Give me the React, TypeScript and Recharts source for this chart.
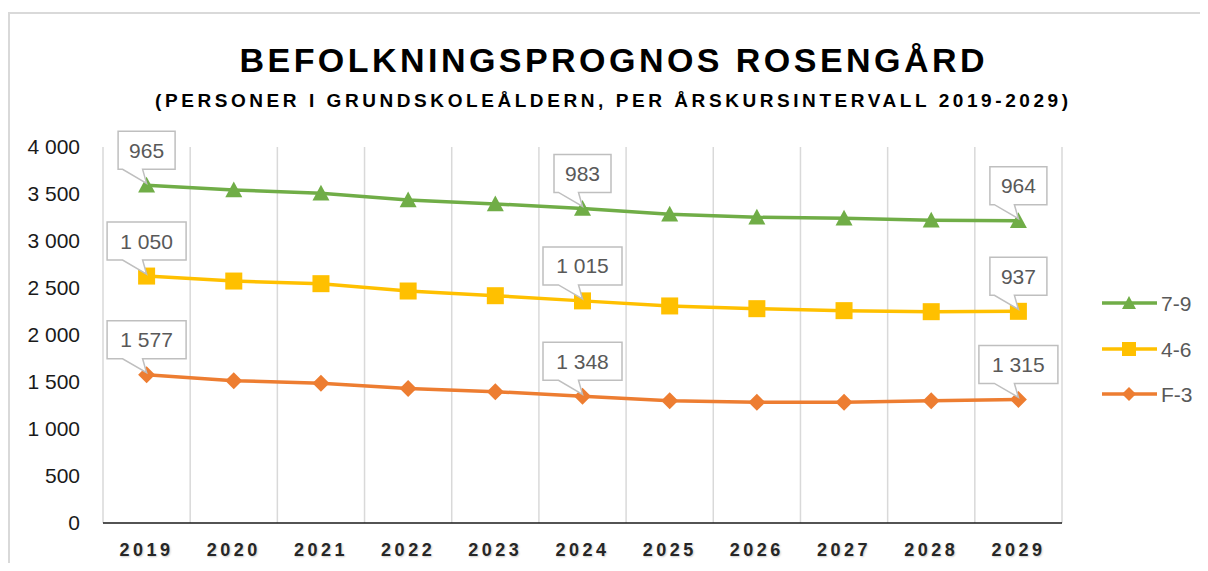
import { AreaChart, Area, CartesianGrid, XAxis, YAxis, LabelList } from "recharts";

const years = ["2019", "2020", "2021", "2022", "2023", "2024", "2025", "2026", "2027", "2028", "2029"];
const f3 = [1577, 1514, 1486, 1430, 1397, 1348, 1301, 1284, 1284, 1301, 1315];
const g46 = [1050, 1060, 1060, 1038, 1021, 1015, 1008, 996, 975, 947, 937];
const g79 = [965, 969, 961, 968, 976, 983, 975, 972, 982, 972, 964];
const yTicks = [0, 500, 1000, 1500, 2000, 2500, 3000, 3500, 4000];
const labelIdx = [0, 5, 10];

const GREEN = "#70ad47";
const YELLOW = "#ffc000";
const ORANGE = "#ed7d31";
const FONT = "'Liberation Sans', Arial, sans-serif";

const data = years.map((y, i) => ({ year: y, f3: f3[i], g46: g46[i], g79: g79[i] }));

const fmt = (v: number) => String(v).replace(/\B(?=(\d{3})+(?!\d))/g, " ");

function Marker({ kind, cx, cy, size, color }: { kind: string; cx: number; cy: number; size: number; color: string }) {
	const h = size / 2;
	if (kind === "tri") {
		return <polygon points={`${cx},${cy - h} ${cx + h},${cy + h * 0.85} ${cx - h},${cy + h * 0.85}`} fill={color} />;
	}
	if (kind === "sq") {
		return <rect x={cx - h} y={cy - h} width={size} height={size} fill={color} />;
	}
	return <polygon points={`${cx},${cy - h} ${cx + h},${cy} ${cx},${cy + h} ${cx - h},${cy}`} fill={color} />;
}

const dotFn = (kind: string, color: string, size: number) => (p: any) => (
	<Marker key={`d-${kind}-${p.index}`} kind={kind} cx={p.cx} cy={p.cy} size={size} color={color} />
);

const callout = (values: number[]) => (p: any) => {
	if (!labelIdx.includes(p.index) || p.x == null) return null;
	const text = fmt(values[p.index]);
	const w = text.length * 11 + 24;
	const h = 38;
	const px = p.x;
	const py = p.y;
	const bottom = py - 16;
	const top = bottom - h;
	const left = px - w / 2;
	const right = px + w / 2;
	const d = `M${left},${top} L${right},${top} L${right},${bottom} L${px - 4},${bottom} L${px},${py - 2} L${px - 24},${bottom} L${left},${bottom} Z`;
	return (
		<g key={`c-${p.index}`}>
			<path d={d} fill="#fff" stroke="#bfbfbf" strokeWidth={1.5} />
			<text x={px} y={top + h / 2 + 7.5} textAnchor="middle" fontSize={21} fill="#595959" fontFamily={FONT}>
				{text}
			</text>
		</g>
	);
};

const legendItems = [
	{ name: "7-9", kind: "tri", color: GREEN, y: 295 },
	{ name: "4-6", kind: "sq", color: YELLOW, y: 341 },
	{ name: "F-3", kind: "dia", color: ORANGE, y: 386 },
];

export default function App() {
	return (
		<div style={{ position: "relative", width: 1200, height: 555, overflow: "hidden", fontFamily: FONT }}>
			<div
				style={{
					position: "absolute",
					left: 0,
					top: 4,
					width: 1300,
					height: 700,
					borderLeft: "2px solid #d9d9d9",
					borderTop: "2px solid #d9d9d9",
				}}
			/>
			<svg width={1200} height={130} style={{ position: "absolute", left: 0, top: 0 }}>
				<text x={604} y={64} textAnchor="middle" fontSize={34} fontWeight="bold" fill="#000" fontFamily={FONT} textLength={745} lengthAdjust="spacing">
					BEFOLKNINGSPROGNOS ROSENGÅRD
				</text>
				<text x={603.5} y={99} textAnchor="middle" fontSize={19} fontWeight="bold" fill="#000" fontFamily={FONT} textLength={913} lengthAdjust="spacing">
					(PERSONER I GRUNDSKOLEÅLDERN, PER ÅRSKURSINTERVALL 2019-2029)
				</text>
			</svg>
			<div style={{ position: "absolute", left: 0, top: 0 }}>
				<AreaChart width={1200} height={555} data={data} margin={{ top: 139, right: 146, bottom: 10, left: 35 }}>
					<CartesianGrid
						horizontal={false}
						stroke="#d9d9d9"
						strokeWidth={1.5}
						verticalCoordinatesGenerator={({ offset }: any) =>
							years.concat([""]).map((_, i) => offset.left + (i * offset.width) / years.length)
						}
					/>
					<XAxis
						dataKey="year"
						padding={{ left: 43.6, right: 43.6 }}
						tickLine={false}
						tickSize={0}
						tickMargin={20}
						axisLine={{ stroke: "#1a1a1a", strokeWidth: 1.5 }}
						tick={{ fontSize: 18, fontWeight: "bold", fill: "#262626", letterSpacing: 3.5, fontFamily: FONT, style: { textShadow: "1px 1px 2px rgba(0,0,0,0.2)" } }}
					/>
					<YAxis
						width={60}
						domain={[0, 4000]}
						ticks={yTicks}
						tickFormatter={fmt}
						axisLine={false}
						tickLine={false}
						tickSize={0}
						tickMargin={23}
						tick={{ fontSize: 21, fill: "#1a1a1a", fontFamily: FONT }}
					/>
					<Area
						type="linear"
						dataKey="f3"
						name="F-3"
						stackId="a"
						stroke={ORANGE}
						strokeWidth={3.5}
						fill="none"
						dot={dotFn("dia", ORANGE, 17)}
						activeDot={false}
						isAnimationActive={false}
					>
						<LabelList content={callout(f3)} />
					</Area>
					<Area
						type="linear"
						dataKey="g46"
						name="4-6"
						stackId="a"
						stroke={YELLOW}
						strokeWidth={3.5}
						fill="none"
						dot={dotFn("sq", YELLOW, 17)}
						activeDot={false}
						isAnimationActive={false}
					>
						<LabelList content={callout(g46)} />
					</Area>
					<Area
						type="linear"
						dataKey="g79"
						name="7-9"
						stackId="a"
						stroke={GREEN}
						strokeWidth={3.5}
						fill="none"
						dot={dotFn("tri", GREEN, 17)}
						activeDot={false}
						isAnimationActive={false}
					>
						<LabelList content={callout(g79)} />
					</Area>
				</AreaChart>
			</div>
			<svg width={120} height={150} style={{ position: "absolute", left: 1090, top: 270 }}>
				{legendItems.map((it) => (
					<g key={it.name}>
						<line x1={4} x2={59} y1={it.y - 270} y2={it.y - 270} stroke={it.color} strokeWidth={3.5} />
						<Marker kind={it.kind} cx={31} cy={it.y - 270} size={14} color={it.color} />
						<text x={63} y={it.y - 270 + 7.5} fontSize={21} fill="#595959" fontFamily={FONT}>
							{it.name}
						</text>
					</g>
				))}
			</svg>
		</div>
	);
}
